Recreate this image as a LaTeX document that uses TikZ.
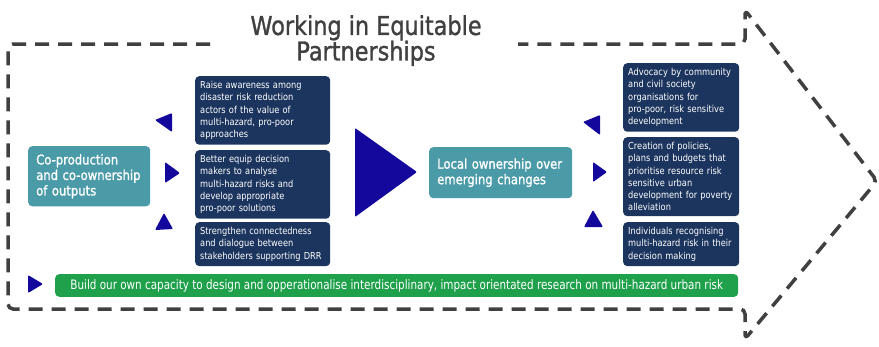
\documentclass[tikz,border=0pt]{standalone}
\usepackage{fontspec}
\setmainfont{DejaVu Sans}[FakeStretch=0.86]
\newfontfamily\barfont{DejaVu Sans}[FakeStretch=0.8]
\newfontfamily\headfont{DejaVu Sans}[FakeStretch=0.86,FakeBold=1.2]
\definecolor{navy}{HTML}{1C355E}
\definecolor{teal}{HTML}{4A9AA8}
\definecolor{leaf}{HTML}{1FA04B}
\definecolor{tri}{HTML}{14089C}
\definecolor{rim}{HTML}{404040}
\begin{document}
\begin{tikzpicture}[x=1pt,y=-1pt,
    box/.style={rounded corners=4pt,text=white,anchor=north west,inner sep=5pt,align=left},
    navybox/.style={box,fill=navy,font=\fontsize{9.6}{12.3}\selectfont},
    tealbox/.style={box,fill=teal,font=\headfont\fontsize{13.5}{15.5}\selectfont,inner sep=8pt},
    pointer/.style={fill=tri,rounded corners=1pt},
    outline/.style={draw=rim,line width=3.5pt,dash pattern=on 14pt off 9pt,rounded corners=5pt}]
  \useasboundingbox (0,0) rectangle (879,346);
  \draw[outline] (210,44) -- (8,44) -- (8,309) -- (745,309) -- (745,339)
                 -- (877,181) -- (745,10) -- (745,44) -- (518,44);
  \node[text=rim,font=\headfont\fontsize{26}{25.5}\selectfont,align=center,inner sep=0pt,anchor=north]
    (title) at (366,15) {Working in Equitable\\Partnerships};
  \node[tealbox,minimum width=122pt,minimum height=55pt,text width=106pt] (coprod) at (28,146)
    {Co-production\\and co-ownership\\of outputs};
  \node[navybox,minimum width=135pt,minimum height=66pt,text width=125pt] (aware) at (195,76)
    {Raise awareness among\\disaster risk reduction\\actors of the value of\\multi-hazard, pro-poor\\approaches};
  \node[navybox,minimum width=135pt,minimum height=63pt,text width=125pt] (equip) at (195,150)
    {Better equip decision\\makers to analyse\\multi-hazard risks and\\develop appropriate\\pro-poor solutions};
  \node[navybox,minimum width=135pt,minimum height=42pt,text width=125pt] (connect) at (195,222)
    {Strengthen connectedness\\and dialogue between\\stakeholders supporting DRR};
  \node[tealbox,minimum width=143pt,minimum height=51pt,text width=127pt] (local) at (429,147)
    {Local ownership over\\emerging changes};
  \node[navybox,minimum width=116pt,minimum height=63pt,text width=106pt] (advocacy) at (623,63)
    {Advocacy by community\\and civil society\\organisations for\\pro-poor, risk sensitive\\development};
  \node[navybox,minimum width=116pt,minimum height=76pt,text width=106pt] (policy) at (623,137)
    {Creation of policies,\\plans and budgets that\\prioritise resource risk\\sensitive urban\\development for poverty\\alleviation};
  \node[navybox,minimum width=116pt,minimum height=41pt,text width=106pt] (people) at (623,222)
    {Individuals recognising\\multi-hazard risk in their\\decision making};
  \node[box,fill=leaf,anchor=north west,minimum width=683pt,minimum height=21pt,align=center,
        font=\barfont\fontsize{13}{14}\selectfont] (capacity) at (55,274)
    {Build our own capacity to design and opperationalise interdisciplinary, impact orientated research on multi-hazard urban risk};
  \fill[pointer] (155,120) -- (172,113) -- (172,132) -- cycle;
  \fill[pointer] (165,162) -- (180,173) -- (165,183) -- cycle;
  \fill[pointer] (164,213) -- (173,229) -- (155,230) -- cycle;
  \fill[pointer] (355,128) -- (417,172) -- (355,217) -- cycle;
  \fill[pointer] (583,122) -- (600,115) -- (600,135) -- cycle;
  \fill[pointer] (593,162) -- (607,172) -- (593,182) -- cycle;
  \fill[pointer] (593,210) -- (603,227) -- (584,227) -- cycle;
  \fill[pointer] (28,275) -- (43,284) -- (28,293) -- cycle;
\end{tikzpicture}
\end{document}
